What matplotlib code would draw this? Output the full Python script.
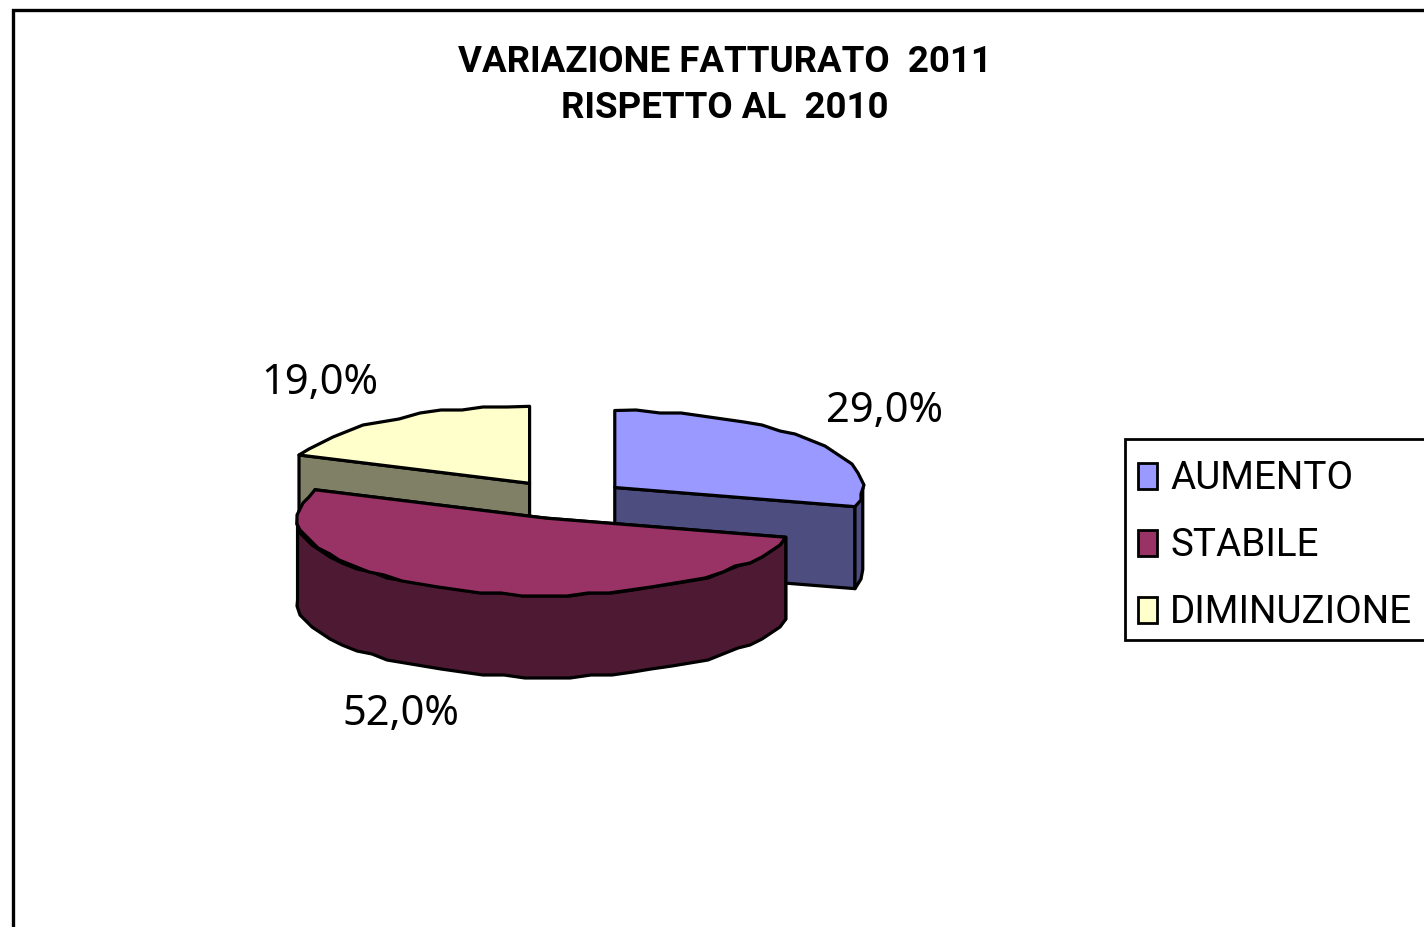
import numpy as np
import matplotlib
matplotlib.use('Agg')
import matplotlib.pyplot as plt

# Dati del grafico
labels = ['AUMENTO', 'STABILE', 'DIMINUZIONE']
values = [29.0, 52.0, 19.0]
value_labels = ['29,0%', '52,0%', '19,0%']
top_colors = ['#9999FF', '#993366', '#FFFFCC']
side_colors = ['#4D4D80', '#4D1933', '#808066']
title_lines = ['VARIAZIONE FATTURATO  2011', 'RISPETTO AL  2010']

# Geometria della torta in pixel
CX, CY = 565, 500.5
RX, RY = 248, 77
DEPTH = 82
EXPLODE = 0.254
STEP = 5.0
GRID = 3.0  # vertici a scalini, l'originale era a bassa risoluzione
LW = 2.3


def rim(cx, cy, a0, a1):
    n = max(2, int(abs(a1 - a0) / STEP) + 1)
    ang = np.radians(np.linspace(a0, a1, n))
    x = cx + RX * np.sin(ang)
    y = cy - RY * np.cos(ang)
    # solo i punti interni vanno sulla griglia
    x[1:-1] = np.round(x[1:-1] / GRID) * GRID
    y[1:-1] = np.round(y[1:-1] / GRID) * GRID
    return x, y


def poly(ax, x, y, color, z):
    ax.fill(x, y, facecolor=color, edgecolor='black', linewidth=LW,
            joinstyle='round', zorder=z)


def draw_slice(ax, a0, a1, top, side, z):
    mid = np.radians((a0 + a1) / 2)
    cx = CX + EXPLODE * RX * np.sin(mid)
    cy = CY - EXPLODE * RY * np.cos(mid)

    # facce di taglio
    for a in (a0, a1):
        if a % 360 != 0:
            rx = cx + RX * np.sin(np.radians(a))
            ry = cy - RY * np.cos(np.radians(a))
            poly(ax, [cx, rx, rx, cx], [cy, ry, ry + DEPTH, cy + DEPTH], side, z)

    # bordo esterno, solo la parte davanti
    f0, f1 = max(a0, 90), min(a1, 270)
    if f1 > f0:
        x, y = rim(cx, cy, f0, f1)
        poly(ax, np.r_[x, x[::-1]], np.r_[y, y[::-1] + DEPTH], side, z + 0.1)

    x, y = rim(cx, cy, a0, a1)
    poly(ax, np.r_[cx, x], np.r_[cy, y], top, z + 0.2)


fig = plt.figure(figsize=(14.24, 9.28), dpi=100)
ax = fig.add_axes([0, 0, 1, 1])
ax.set_xlim(0, 1424)
ax.set_ylim(928, 0)
ax.axis('off')

# cornice esterna, tagliata a destra e in basso
ax.plot([13, 13, 1430], [935, 11, 11], color='black', lw=2.4, solid_joinstyle='miter')

# prima la fetta dietro, poi le altre
angles = np.cumsum([0] + values) * 3.6
order = [2, 0, 1]
for i, k in enumerate(order):
    draw_slice(ax, angles[k], angles[k + 1], top_colors[k], side_colors[k], 2 + i)

ax.text(724.5, 62, title_lines[0], ha='center', va='center', fontsize=26.4,
        fontweight='bold', family='Roboto')
ax.text(724.5, 108, title_lines[1], ha='center', va='center', fontsize=26.4,
        fontweight='bold', family='Roboto')

label_pos = [(884, 411), (401, 714), (320, 383)]
for (x, y), s in zip(label_pos, value_labels):
    ax.text(x, y, s, ha='center', va='center', fontsize=30, family='Noto Sans')

# legenda disegnata a mano: il riquadro esce dalla figura
ax.plot([1430, 1125, 1125, 1430], [440, 440, 641, 641], color='black', lw=2.0,
        solid_joinstyle='miter', zorder=5)
for i, (s, c) in enumerate(zip(labels, top_colors)):
    y = 477 + i * 67
    ax.add_patch(plt.Rectangle((1138, y - 13), 19, 26, facecolor=c, edgecolor='black',
                               linewidth=2.0, zorder=6))
    ax.text(1170, y + 2, s, ha='left', va='center', fontsize=27.8, family='Roboto', zorder=6)

fig.savefig('out.png', dpi=100)
